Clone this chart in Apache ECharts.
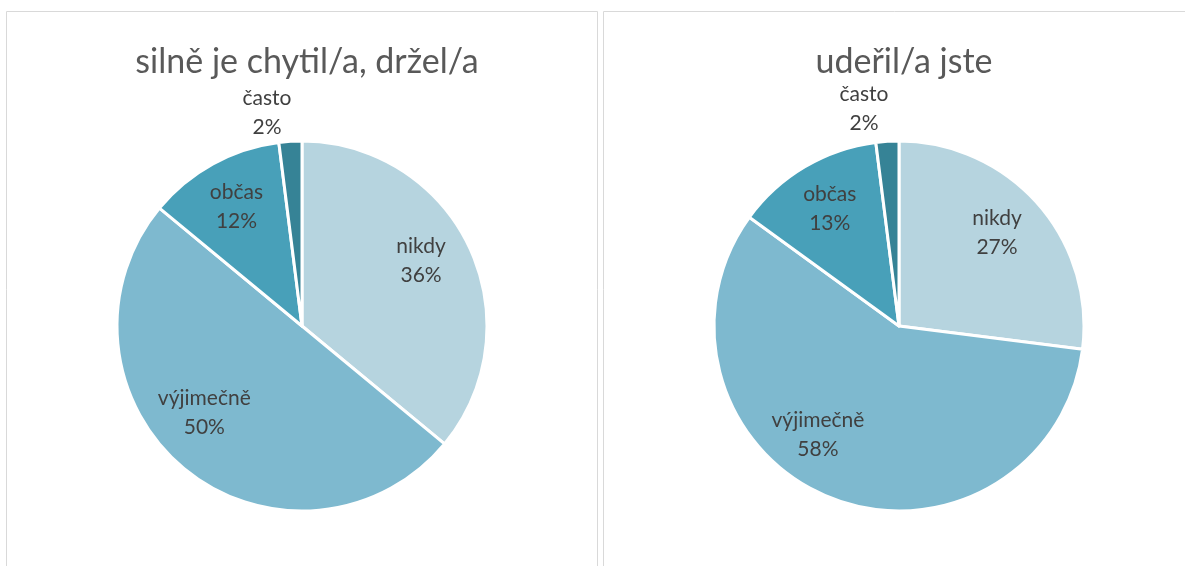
<!DOCTYPE html>
<html><head><meta charset="utf-8">
<script src="https://cdn.jsdelivr.net/npm/echarts@6/dist/echarts.min.js"></script>
<style>html,body{margin:0;padding:0;background:#fff}#c{width:1185px;height:566px}</style>
</head><body><div id="c"></div>
<script>
const categories = ['nikdy', 'výjimečně', 'občas', 'často'];
const titles = ['silně je chytil/a, držel/a', 'udeřil/a jste'];
const valuesLeft = [36, 50, 12, 2];
const valuesRight = [27, 58, 13, 2];
const colors = ['#b6d4df', '#7eb9cf', '#48a0b9', '#368396'];

const FONT = 'Lato';
const centers = [[302, 326], [899, 326]];
const R = 185;
// label nudges (style only), per chart, per category
const labelNudge = [
  [[-4, -7], [-11, -18], [0, 0], [-21, 9]],
  [[-4, -3], [-31, -18], [0, 0], [-21, 5]]
];

const labelStyle = { position: 'inside', formatter: '{b}\n{c}%', fontFamily: FONT, fontSize: 21, lineHeight: 29, color: '#404040' };

function mk(values, k, showFn) {
  return values.map((v, i) => ({
    name: categories[i], value: v,
    label: { show: showFn(i), offset: labelNudge[k][i] }
  }));
}

const series = [];
[valuesLeft, valuesRight].forEach((vals, k) => {
  series.push({
    type: 'pie', center: centers[k], radius: [0, R], startAngle: 90, clockwise: true,
    silent: true, label: { show: false }, labelLine: { show: false },
    itemStyle: { borderColor: '#fff', borderWidth: 3 },
    data: vals.map((v, i) => ({ name: categories[i], value: v, itemStyle: { color: colors[i] } }))
  });
  series.push({
    type: 'pie', center: centers[k], radius: [81, R], startAngle: 90, clockwise: true,
    silent: true, itemStyle: { color: 'transparent' }, labelLine: { show: false },
    label: labelStyle,
    data: mk(vals, k, i => i < 3)
  });
  series.push({
    type: 'pie', center: centers[k], radius: [200, 240], startAngle: 90, clockwise: true,
    silent: true, itemStyle: { color: 'transparent' }, labelLine: { show: false },
    label: labelStyle,
    data: mk(vals, k, i => i === 3)
  });
});

const chart = echarts.init(document.getElementById('c'), null, { renderer: 'canvas' });
chart.setOption({
  animation: false,
  color: colors,
  title: titles.map((t, k) => ({
    text: t, left: centers[k][0], top: 40, textAlign: 'center',
    textStyle: { fontFamily: FONT, fontSize: 34, fontWeight: 'normal', color: '#595959' }
  })),
  graphic: [
    { type: 'rect', shape: { x: 6.5, y: 11.5, width: 591, height: 600 }, style: { fill: 'none', stroke: '#d9d9d9', lineWidth: 1 } },
    { type: 'rect', shape: { x: 603.5, y: 11.5, width: 600, height: 600 }, style: { fill: 'none', stroke: '#d9d9d9', lineWidth: 1 } }
  ],
  series
});
</script></body></html>
